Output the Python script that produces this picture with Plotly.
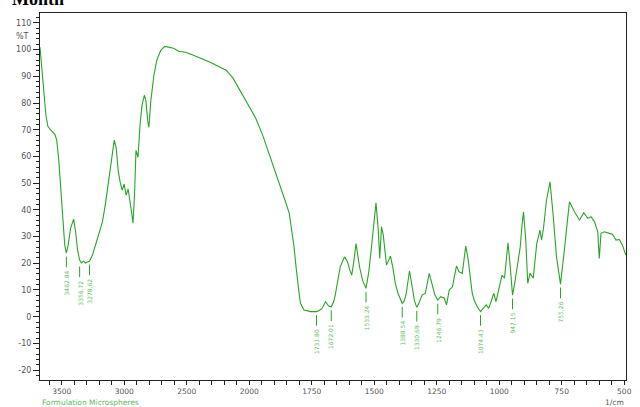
import plotly.graph_objects as go

# ---- spectrum data (wavenumber in 1/cm, transmittance in %T) ----
wavenumber = [3674, 3650, 3627, 3611, 3587, 3555, 3540, 3524, 3508, 3492, 3476, 3463, 3449, 3429,
              3405, 3389, 3373, 3357, 3342, 3326, 3310, 3294, 3278, 3254, 3231, 3199, 3175, 3152,
              3128, 3104, 3080, 3064, 3049, 3033, 3017, 3001, 2985, 2969, 2954, 2938, 2930, 2918,
              2906, 2890, 2874, 2858, 2839, 2827, 2811, 2803, 2787, 2763, 2740, 2708, 2676, 2645,
              2605, 2565, 2510, 2447, 2383, 2312, 2249, 2185, 2130, 2074, 2011, 1974, 1946, 1918,
              1895, 1874, 1857, 1840, 1831, 1821, 1814, 1808, 1801, 1795, 1781, 1755, 1731, 1720,
              1709, 1695, 1682, 1672, 1663, 1656, 1645, 1636, 1619, 1607, 1598, 1590, 1582, 1573,
              1559, 1546, 1533, 1522, 1511, 1501, 1493, 1484, 1478, 1471, 1464, 1451, 1443, 1435,
              1425, 1416, 1405, 1388, 1380, 1372, 1359, 1346, 1339, 1330, 1321, 1309, 1296, 1289,
              1280, 1266, 1257, 1246, 1234, 1220, 1211, 1200, 1187, 1180, 1171, 1161, 1148, 1140,
              1134, 1124, 1117, 1108, 1099, 1088, 1075, 1062, 1052, 1042, 1031, 1022, 1013, 1002,
              989, 979, 972, 965, 956, 947, 938, 930, 916, 910, 903, 894, 886, 877, 864, 850, 837,
              831, 823, 811, 797, 785, 771, 755, 746, 738, 728, 719, 699, 679, 662, 646, 633, 619,
              606, 600, 593, 580, 560, 547, 533, 520, 507, 494]
transmittance = [100.9, 88.6, 75.5, 71.3, 69.8, 68.3, 66.1, 58.6, 47.4, 35.4, 26.8, 23.8, 26.8, 33.2,
                 36.5, 31.7, 24.9, 21.2, 20.1, 20.8, 20.1, 20.5, 20.8, 23.1, 26.8, 31.7, 35.4, 41.8,
                 49.3, 57.5, 66.1, 63.1, 54.9, 50.4, 47.4, 49.6, 45.5, 47.8, 43.6, 38.0, 35.0, 45.5,
                 62.3, 59.7, 71.7, 79.2, 82.9, 81.0, 72.8, 70.9, 81.0, 90.4, 96.0, 99.7, 101.2, 100.9,
                 100.5, 99.4, 99.0, 97.9, 96.7, 95.3, 93.8, 92.3, 89.3, 84.8, 79.9, 74.3, 67.9, 60.5,
                 54.1, 48.6, 43.6, 38.7, 33.2, 26.2, 19.7, 13.7, 8.9, 5.0, 2.5, 1.9, 1.9, 2.3,
                 3.1, 5.6, 4.0, 3.7, 5.5, 8.1, 13.7, 18.7, 22.4, 20.6, 17.5, 15.6, 20.5, 27.4,
                 18.7, 13.4, 10.6, 16.7, 26.2, 36.2, 42.6, 32.4, 21.8, 33.7, 30.6, 19.3, 21.2, 22.7,
                 18.1, 12.6, 8.7, 5.0, 5.9, 8.7, 17.2, 10.0, 5.9, 3.5, 5.1, 8.1, 8.7, 11.9,
                 16.2, 11.2, 8.1, 6.2, 7.5, 6.9, 4.4, 10.0, 11.2, 14.8, 19.0, 16.8, 16.2, 22.0,
                 26.4, 21.2, 14.5, 8.7, 5.9, 3.7, 1.9, 3.1, 4.4, 3.1, 6.2, 8.7, 5.6, 10.0,
                 15.6, 14.4, 21.2, 27.7, 18.7, 8.1, 12.6, 17.5, 26.2, 33.2, 39.3, 28.7, 12.5, 16.2, 14.4, 27.4, 32.4,
                 28.7, 33.1, 43.6, 50.5, 38.7, 22.4, 12.2, 21.2, 26.2, 35.4, 43.0, 39.3, 36.2, 38.9, 36.8, 37.4, 35.5,
                 31.8, 21.8, 31.2, 31.8, 31.2, 30.9, 28.7, 28.9, 26.8, 23.1]

# ---- labelled peaks ----
peak_wn = [3463, 3357, 3278, 1731, 1672, 1533, 1388, 1330, 1246, 1075, 947, 755]
peak_T = [23.8, 20.1, 20.8, 1.9, 3.7, 10.6, 5.0, 3.5, 6.2, 1.9, 8.1, 12.2]
peak_text = ["3462.84", "3356.72", "3278.62", "1731.80", "1672.01", "1533.24",
             "1388.54", "1330.68", "1246.79", "1074.43", "947.15", "755.26"]

# ---- axis ticks ----
x_ticks = [3500, 3000, 2500, 2000, 1750, 1500, 1250, 1000, 750, 500]
y_ticks = [110, 100, 90, 80, 70, 60, 50, 40, 30, 20, 10, 0, -10, -20]


def to_axis(w):
    # instrument-style axis: 2x expanded scale below 2000 1/cm
    return w if w >= 2000 else 2 * w - 2000


GREEN = "rgb(40,165,40)"
LABEL_GREEN = "rgb(95,190,95)"

fig = go.Figure()
fig.add_trace(go.Scatter(
    x=[to_axis(w) for w in wavenumber], y=transmittance, mode="lines",
    line=dict(color=GREEN, width=1.1), hoverinfo="skip", showlegend=False))

# peak marker lines
lx, ly = [], []
for w, t in zip(peak_wn, peak_T):
    lx += [to_axis(w), to_axis(w), None]
    ly += [t - 1.3, t - 5.3, None]
fig.add_trace(go.Scatter(x=lx, y=ly, mode="lines", line=dict(color=GREEN, width=1),
                         hoverinfo="skip", showlegend=False))

for w, t, s in zip(peak_wn, peak_T, peak_text):
    fig.add_annotation(x=to_axis(w), y=t - 5.8, text=s, textangle=-90, showarrow=False,
                       xanchor="center", yanchor="top",
                       font=dict(family="DejaVu Sans", size=6, color=LABEL_GREEN))

fig.update_xaxes(
    range=[3674, -1014], tickvals=[to_axis(v) for v in x_ticks],
    ticktext=[str(v) for v in x_ticks], ticks="outside", ticklen=4, tickwidth=1,
    tickcolor="#222", showline=True, linecolor="#222", linewidth=1, mirror=True,
    showgrid=False, zeroline=False,
    tickfont=dict(family="DejaVu Sans", size=7.5, color="#555"),
    minor=dict(dtick=100, tick0=0, ticks="outside", ticklen=4, tickcolor="#222", showgrid=False))
fig.update_yaxes(
    range=[-23.7, 113.7], tickvals=y_ticks, ticktext=[str(v) for v in y_ticks],
    ticks="outside", ticklen=6, tickwidth=1, tickcolor="#222", showline=True,
    linecolor="#222", linewidth=1, mirror=True, showgrid=False, zeroline=False,
    tickfont=dict(family="DejaVu Sans", size=8, color="#555"),
    minor=dict(dtick=2, tick0=0, ticks="outside", ticklen=3, tickcolor="#222", showgrid=False))

fig.add_annotation(x=0, xref="paper", y=105, yref="y", text="%T", showarrow=False,
                   xanchor="right", xshift=-9, font=dict(family="DejaVu Sans", size=8, color="#555"))
fig.add_annotation(x=0, xref="paper", y=0, yref="paper", text="Formulation Microspheres",
                   showarrow=False, xanchor="left", yanchor="top", yshift=-16,
                   font=dict(family="DejaVu Sans", size=7.5, color="rgb(90,190,90)"))
fig.add_annotation(x=1, xref="paper", y=0, yref="paper", text="1/cm", showarrow=False,
                   xanchor="right", yanchor="top", yshift=-16,
                   font=dict(family="DejaVu Sans", size=7.5, color="#555"))
fig.add_annotation(x=-0.052, xref="paper", y=1, yref="paper", text="<b>Month</b>",
                   showarrow=False, xanchor="left", yanchor="bottom", yshift=2,
                   font=dict(family="Liberation Serif", size=18, color="black"))

fig.update_layout(width=640, height=407, margin=dict(l=40, r=8, t=13, b=27),
                  paper_bgcolor="white", plot_bgcolor="white")
fig.write_html("out.html", config={"displayModeBar": False},
               post_script="document.body.style.margin='0';document.body.style.overflow='hidden';")
